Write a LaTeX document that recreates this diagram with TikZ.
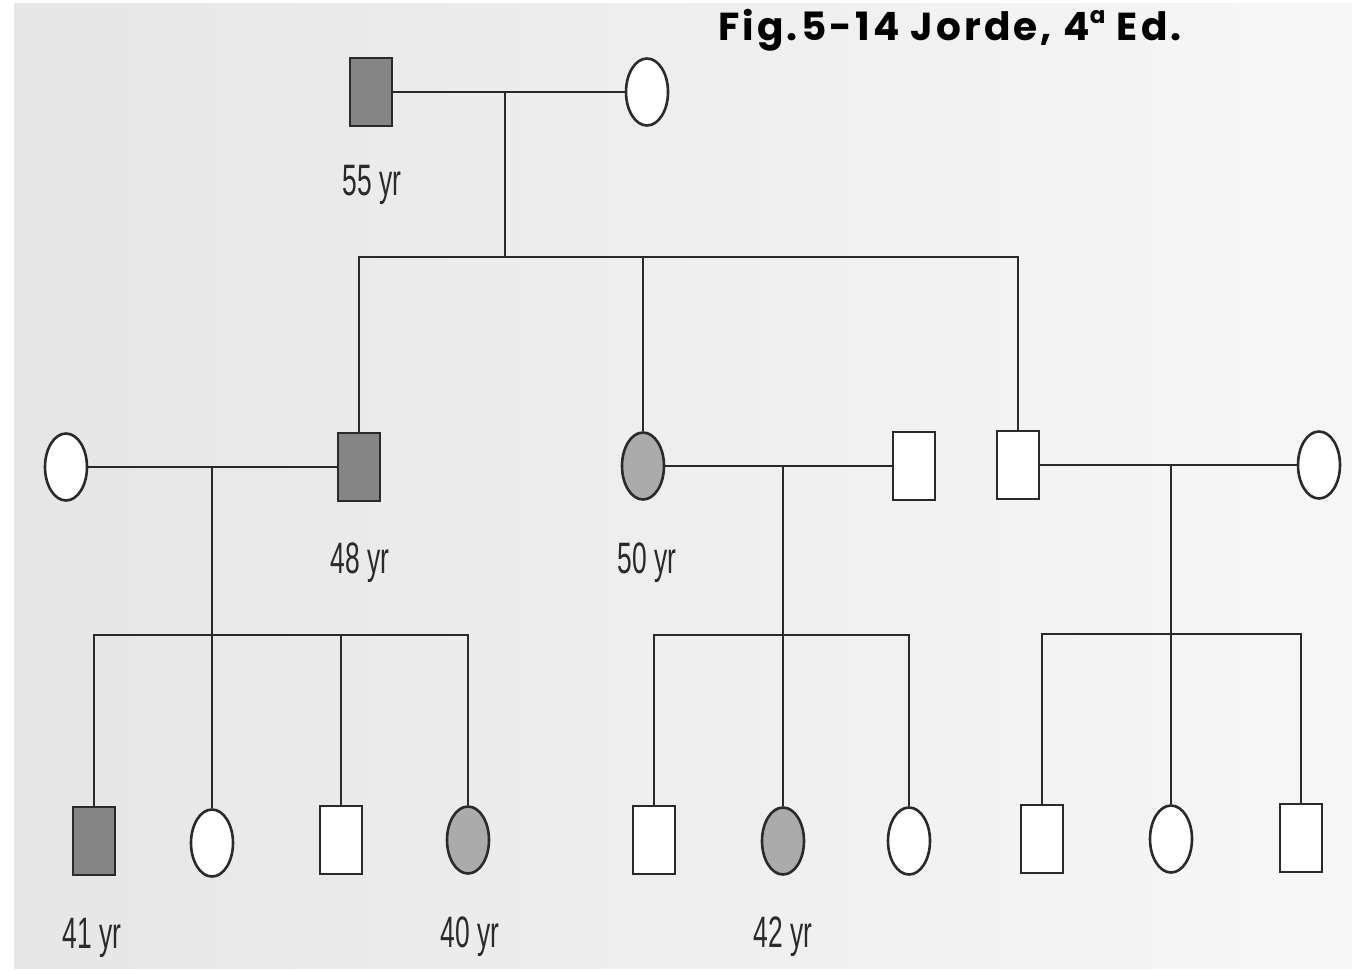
\documentclass[tikz,border=0pt]{standalone}
\usepackage{fontspec}
\setmainfont{Liberation Sans}
\newfontfamily\titlefont[LetterSpace=8]{Poppins}
\usetikzlibrary{shapes.geometric}
\definecolor{paperL}{HTML}{E6E6E6}
\definecolor{paperR}{HTML}{F7F7F7}
\definecolor{affdark}{HTML}{858585}
\definecolor{afflight}{HTML}{ABABAB}
\definecolor{ink}{HTML}{2A2A2A}
\begin{document}
\begin{tikzpicture}[x=1pt,y=-1pt,
  male/.style={draw=ink, line width=2.6pt, rectangle, minimum width=42pt,
    minimum height=68pt, inner sep=0pt, fill=white},
  female/.style={draw=ink, line width=2.6pt, ellipse, minimum width=42pt,
    minimum height=67pt, inner sep=0pt, fill=white},
  dark/.style={fill=affdark},
  light/.style={fill=afflight},
  link/.style={draw=ink, line width=2.6pt},
  age/.style={inner sep=0pt, font=\fontsize{44}{50}\selectfont, xscale=0.6, text=ink}]
\useasboundingbox (0,0) rectangle (1357,971);
\fill[white] (0,0) rectangle (1357,971);
\shade[left color=paperL, right color=paperR] (14,4) rectangle (1352,968);

% title
\node[anchor=west, inner sep=0pt, font=\titlefont\bfseries\fontsize{39}{46}\selectfont]
  (title) at (718,30) {Fig.5-14 Jorde, 4\raisebox{0.75ex}{\fontsize{23}{23}\selectfont a} Ed.};

% generation I
\node[male,dark] (g1m) at (371,92) {};
\node[female] (g1f) at (647,92) {};
\coordinate (mI) at (505,92);
\coordinate (sI) at (505,257);

% generation II
\node[female] (g2a) at (66,467) {};
\node[male,dark] (g2b) at (359,467) {};
\node[female,light] (g2c) at (643,466) {};
\node[male] (g2d) at (914,466) {};
\node[male] (g2e) at (1018,465) {};
\node[female] (g2f) at (1319,465) {};
\coordinate (mIIa) at (212,467);
\coordinate (mIIb) at (783,466);
\coordinate (mIIc) at (1171,465);

% generation III
\coordinate (sIIa) at (212,635);
\coordinate (sIIb) at (783,635);
\coordinate (sIIc) at (1171,634);
\node[male,dark] (g3a) at (94,841) {};
\node[female] (g3b) at (212,843) {};
\node[male] (g3c) at (341,840) {};
\node[female,light] (g3d) at (468,840) {};
\node[male] (g3e) at (654,840) {};
\node[female,light] (g3f) at (783,841) {};
\node[female] (g3g) at (909,841) {};
\node[male] (g3h) at (1042,839) {};
\node[female] (g3i) at (1171,839) {};
\node[male] (g3j) at (1301,838) {};

% mating and descent lines
\draw[link] (g1m.east) -- (g1f.west);
\draw[link] (mI) -- (sI);
\draw[link] (g2b.north) |- (sI) -| (g2e.north);
\draw[link] (g2c.north) -- (g2c.north |- sI);

\draw[link] (g2a.east) -- (g2b.west);
\draw[link] (mIIa) -- (g3b.north);
\draw[link] (g3a.north) |- (sIIa) -| (g3d.north);
\draw[link] (g3c.north) -- (g3c.north |- sIIa);

\draw[link] (g2c.east) -- (g2d.west);
\draw[link] (mIIb) -- (g3f.north);
\draw[link] (g3e.north) |- (sIIb) -| (g3g.north);

\draw[link] (g2e.east) -- (g2f.west);
\draw[link] (mIIc) -- (g3i.north);
\draw[link] (g3h.north) |- (sIIc) -| (g3j.north);

% ages
\node[age] (a55) at (372,185) {55 yr};
\node[age] (a48) at (360,563) {48 yr};
\node[age] (a50) at (647,563) {50 yr};
\node[age] (a41) at (92,938) {41 yr};
\node[age] (a40) at (470,937) {40 yr};
\node[age] (a42) at (783,937) {42 yr};
\end{tikzpicture}
\end{document}
